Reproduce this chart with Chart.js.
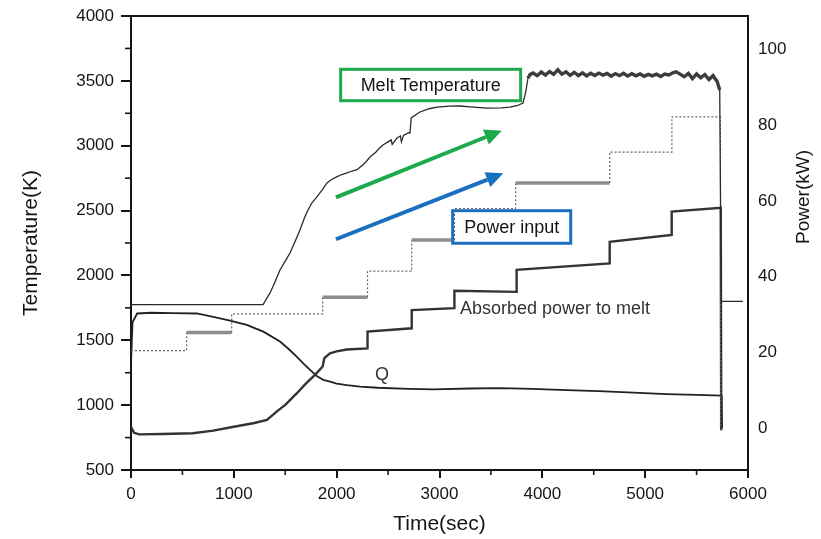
<html>
<head>
<title>Melt temperature and power input</title>
<script src="https://cdn.jsdelivr.net/npm/chart.js"></script>
<style>
body { margin: 0; background: #fff; }
</style>
</head>
<body>
<canvas id="chart" width="821" height="539"></canvas>
<script>
// melt temperature (K, left axis)
const meltTime = [0, 1284, 1352, 1400, 1449, 1500, 1546, 1600, 1643, 1690, 1721, 1760, 1808, 1860, 1906, 1950, 2000, 2050, 2100, 2150, 2198, 2250, 2290, 2324, 2380, 2420, 2450, 2500, 2530, 2540, 2587, 2620, 2630, 2650, 2700, 2713, 2725, 2810, 2900, 2976, 3100, 3199, 3300, 3462, 3600, 3685, 3760, 3812, 3840, 3860,
  3880, 3910, 3950, 3990, 4030, 4070, 4110, 4150, 4190, 4230, 4270, 4310, 4350, 4390, 4430, 4470, 4510, 4550, 4590, 4630, 4670, 4710, 4750, 4790, 4830, 4870, 4910, 4950, 4990, 5030, 5070, 5110, 5150, 5190, 5230, 5270, 5300, 5340, 5380, 5420, 5460, 5500, 5540, 5580, 5620, 5660, 5700, 5725, 5740, 5950];
const meltTemp = [1775, 1775, 1865, 1950, 2042, 2110, 2173, 2270, 2350, 2450, 2504, 2560, 2605, 2660, 2713, 2740, 2760, 2778, 2790, 2805, 2815, 2850, 2880, 2913, 2950, 2985, 3006, 3030, 3045, 3010, 3060, 3075, 3030, 3080, 3100, 3098, 3214, 3260, 3285, 3298, 3305, 3306, 3300, 3290, 3292, 3298, 3310, 3329, 3420, 3520,
  3548, 3560, 3540, 3568, 3545, 3572, 3550, 3585, 3552, 3570, 3542, 3566, 3540, 3562, 3538, 3558, 3541, 3560, 3544, 3557, 3536, 3556, 3540, 3558, 3537, 3555, 3539, 3553, 3535, 3550, 3538, 3551, 3534, 3553, 3545, 3562, 3570, 3552, 3532, 3558, 3518, 3553, 3524, 3549, 3510, 3540, 3495, 3430, 1800, 1800];

// power input (kW, right axis)
const inputTime = [0, 541, 541, 979, 979, 1864, 1864, 2300, 2300, 2730, 2730, 3145, 3145, 3740, 3740, 4655, 4655, 5260, 5260, 5732, 5732];
const inputPower = [20.5, 20.5, 25.3, 25.3, 30.2, 30.2, 34.6, 34.6, 41.5, 41.5, 49.7, 49.7, 58.0, 58.0, 64.7, 64.7, 72.9, 72.9, 82.2, 82.2, 0];
const inputDenseLevels = [25.3, 34.6, 49.7, 64.7];

// absorbed power to melt (kW, right axis)
const absorbedTime = [0, 30, 80, 300, 600, 800, 1000, 1200, 1322, 1416, 1500, 1611, 1700, 1789, 1864, 1880, 1935, 2000, 2097, 2300, 2300, 2730, 2730, 3145, 3145, 3750, 3750, 4655, 4655, 5258, 5258, 5735, 5740];
const absorbedPower = [0.4, -1.2, -1.6, -1.5, -1.3, -0.6, 0.4, 1.4, 2.2, 4.4, 6.2, 9.2, 11.8, 14.1, 16.3, 18.5, 19.8, 20.3, 20.8, 21.1, 25.5, 26.4, 31.2, 31.7, 36.3, 36.0, 41.8, 43.5, 49.2, 51.0, 57.2, 58.2, -0.5];

// Q (kW, right axis)
const qTime = [0, 15, 60, 200, 400, 639, 800, 963, 1125, 1287, 1449, 1530, 1611, 1680, 1741, 1806, 1870, 1935, 2000, 2100, 2227, 2400, 2700, 2940, 3300, 3588, 3900, 4237, 4550, 4885, 5209, 5500, 5744, 5748];
const qPower = [17, 28, 30.3, 30.5, 30.4, 30.3, 29.4, 28.4, 27.3, 25.5, 22.9, 21.0, 18.9, 17.0, 15.4, 13.8, 12.8, 12.3, 11.8, 11.4, 11.0, 10.7, 10.4, 10.3, 10.5, 10.6, 10.4, 10.1, 9.8, 9.4, 9.0, 8.8, 8.6, 0];

const timeTicks = [0, 1000, 2000, 3000, 4000, 5000, 6000];
const timeMinor = [500, 1500, 2500, 3500, 4500, 5500];
const tempTicks = [500, 1000, 1500, 2000, 2500, 3000, 3500, 4000];
const tempMinor = [750, 1250, 1750, 2250, 2750, 3250, 3750];
const powerTicks = [0, 20, 40, 60, 80, 100];

const FONT = '"Liberation Sans", Arial, sans-serif';
const INK = '#151515';

function pts(xs, ys) { return xs.map((x, i) => ({x: x, y: ys[i]})); }

const isDense = ctx => ctx.p0.parsed.y === ctx.p1.parsed.y && inputDenseLevels.includes(ctx.p0.parsed.y);
const plain = v => String(v);

function arrow(c, x0, y0, x1, y1, color) {
  const a = Math.atan2(y1 - y0, x1 - x0), L = 17, W = 8;
  c.save();
  c.strokeStyle = color; c.fillStyle = color; c.lineWidth = 4;
  c.beginPath(); c.moveTo(x0, y0); c.lineTo(x1 - L * Math.cos(a), y1 - L * Math.sin(a)); c.stroke();
  c.beginPath(); c.moveTo(x1, y1);
  c.lineTo(x1 - L * Math.cos(a) + W * Math.sin(a), y1 - L * Math.sin(a) - W * Math.cos(a));
  c.lineTo(x1 - L * Math.cos(a) - W * Math.sin(a), y1 - L * Math.sin(a) + W * Math.cos(a));
  c.closePath(); c.fill();
  c.restore();
}

const extras = {
  id: 'extras',
  afterDatasetsDraw(chart) {
    const c = chart.ctx, a = chart.chartArea, sx = chart.scales.x, sy = chart.scales.y;
    const X = v => sx.getPixelForValue(v), Y = v => sy.getPixelForValue(v);
    c.save();
    c.strokeStyle = INK; c.lineWidth = 2;
    c.beginPath(); c.moveTo(a.left - 1, a.top); c.lineTo(a.right + 1, a.top); c.stroke();
    c.lineWidth = 1.6;
    tempMinor.forEach(v => { c.beginPath(); c.moveTo(a.left - 6, Y(v)); c.lineTo(a.left, Y(v)); c.stroke(); });
    timeMinor.forEach(v => { c.beginPath(); c.moveTo(X(v), a.bottom); c.lineTo(X(v), a.bottom + 5); c.stroke(); });

    // boxes
    c.lineWidth = 3;
    c.strokeStyle = '#1daa4c';
    c.strokeRect(X(2039), Y(3589), X(3789) - X(2039), Y(3347) - Y(3589));
    c.strokeStyle = '#1b6fbf';
    c.strokeRect(X(3128), Y(2499), X(4276) - X(3128), Y(2248) - Y(2499));

    arrow(c, X(1993), Y(2602), X(3605), Y(3116), '#1daa4c');
    arrow(c, X(1993), Y(2279), X(3620), Y(2787), '#1b6fbf');

    c.fillStyle = INK;
    c.font = '18px ' + FONT;
    c.textBaseline = 'middle';
    c.textAlign = 'center';
    c.fillText('Melt Temperature', (X(2039) + X(3789)) / 2, (Y(3589) + Y(3347)) / 2 + 1);
    c.fillText('Power input', (X(3128) + X(4276)) / 2, (Y(2499) + Y(2248)) / 2 + 1);
    c.textAlign = 'left';
    c.fillStyle = '#333';
    c.fillText('Absorbed power to melt', X(3199), Y(1741));
    c.fillText('Q', X(2373), Y(1232));

    // right axis title
    c.fillStyle = INK;
    c.font = '19px ' + FONT;
    c.translate(804, 197);
    c.rotate(-Math.PI / 2);
    c.textAlign = 'center';
    c.fillText('Power(kW)', 0, 0);
    c.restore();
  }
};

new Chart(document.getElementById('chart'), {
  type: 'line',
  data: {
    datasets: [
      {
        label: 'Melt temperature',
        data: pts(meltTime, meltTemp),
        yAxisID: 'y',
        borderColor: '#2a2a2a',
        borderWidth: 1.3,
        segment: {
          borderWidth: ctx => ctx.p0.parsed.x >= 3860 && ctx.p1.parsed.x <= 5730 ? 3.4 : 1.3,
          borderColor: ctx => ctx.p0.parsed.x >= 3860 && ctx.p1.parsed.x <= 5730 ? '#3c3c3c' : '#2a2a2a'
        }
      },
      {
        label: 'Power input',
        data: pts(inputTime, inputPower),
        yAxisID: 'y1',
        borderColor: '#666',
        borderWidth: 1.2,
        borderDash: [2, 2],
        segment: {
          borderDash: ctx => isDense(ctx) ? [] : [2, 2],
          borderWidth: ctx => isDense(ctx) ? 3.5 : 1.2,
          borderColor: ctx => isDense(ctx) ? '#8c8c8c' : '#666'
        }
      },
      {
        label: 'Absorbed power to melt',
        data: pts(absorbedTime, absorbedPower),
        yAxisID: 'y1',
        borderColor: '#333',
        borderWidth: 2.4
      },
      {
        label: 'Q',
        data: pts(qTime, qPower),
        yAxisID: 'y1',
        borderColor: '#222',
        borderWidth: 1.8
      }
    ]
  },
  options: {
    responsive: false,
    animation: false,
    elements: { point: { radius: 0 }, line: { tension: 0 } },
    layout: { padding: { top: 16, left: 0, right: 0, bottom: 0 } },
    plugins: { legend: { display: false }, tooltip: { enabled: false } },
    scales: {
      x: {
        type: 'linear',
        min: 0, max: 6000,
        afterBuildTicks: s => { s.ticks = timeTicks.map(v => ({value: v})); },
        afterFit: s => { s.height = 69; },
        ticks: { color: INK, font: { size: 17, family: FONT }, padding: 6, maxRotation: 0, callback: plain },
        grid: { drawOnChartArea: false, tickLength: 8, color: INK, lineWidth: 2 },
        border: { display: true, color: INK, width: 2 },
        title: { display: true, text: 'Time(sec)', color: INK, font: { size: 21, family: FONT }, padding: { top: 0, bottom: 2 } }
      },
      y: {
        type: 'linear',
        position: 'left',
        min: 500, max: 4000,
        afterBuildTicks: s => { s.ticks = tempTicks.map(v => ({value: v})); },
        afterFit: s => { s.width = 131; s.paddingTop = 0; s.paddingBottom = 0; },
        ticks: { color: INK, font: { size: 17, family: FONT }, padding: 7, callback: plain },
        grid: { drawOnChartArea: false, tickLength: 10, color: INK, lineWidth: 2 },
        border: { display: true, color: INK, width: 2 },
        title: { display: true, text: 'Temperature(K)', color: INK, font: { size: 21, family: FONT }, padding: { top: 19, bottom: 0 } }
      },
      y1: {
        type: 'linear',
        position: 'right',
        min: -11, max: 108.8,
        afterBuildTicks: s => { s.ticks = powerTicks.map(v => ({value: v})); },
        afterFit: s => { s.width = 73; s.paddingTop = 0; s.paddingBottom = 0; },
        ticks: { color: INK, font: { size: 17, family: FONT }, padding: 10, callback: plain },
        grid: { display: false, drawTicks: false },
        border: { display: true, color: INK, width: 2 }
      }
    }
  },
  plugins: [extras]
});
</script>
</body>
</html>
